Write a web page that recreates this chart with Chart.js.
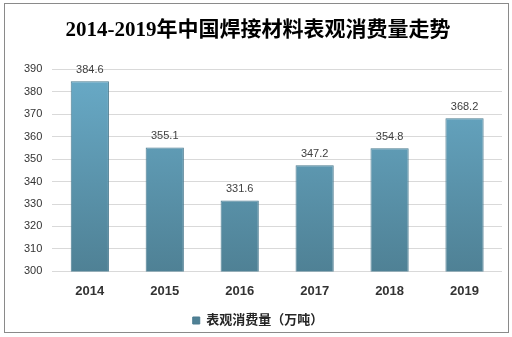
<!DOCTYPE html>
<html>
<head>
<meta charset="utf-8">
<script src="https://cdn.jsdelivr.net/npm/chart.js@4"></script>
<style>
  html, body { margin: 0; padding: 0; background: #fff; }
  #wrap { position: relative; width: 512px; height: 337px; }
  #frame { position: absolute; left: 4px; top: 3px; width: 505px; height: 330px; border: 1px solid #8a8a8a; box-sizing: border-box; pointer-events: none; }
</style>
</head>
<body>
<div id="wrap">
  <canvas id="chart" width="512" height="337"></canvas>
  <div id="frame"></div>
</div>
<script>
const years = ["2014", "2015", "2016", "2017", "2018", "2019"];
const consumption = [384.6, 355.1, 331.6, 347.2, 354.8, 368.2];
const seriesName = "表观消费量（万吨）";
const titleText = "2014-2019年中国焊接材料表观消费量走势";

const CJK = '"Noto Sans CJK SC"';

// value labels drawn above each bar
const barLabels = {
  id: "barLabels",
  afterDatasetsDraw(chart) {
    const ctx = chart.ctx;
    const meta = chart.getDatasetMeta(0);
    ctx.save();
    ctx.font = '11px "Liberation Sans", ' + CJK;
    ctx.fillStyle = "#404040";
    ctx.textAlign = "center";
    ctx.textBaseline = "bottom";
    meta.data.forEach((bar, i) => {
      ctx.fillText(consumption[i].toFixed(1), bar.x, bar.y - 6);
    });
    ctx.restore();
  },
};

function barGradient(context) {
  const { chart } = context;
  const area = chart.chartArea;
  if (!area) return "#5fa0bd";
  const g = chart.ctx.createLinearGradient(0, area.top, 0, area.bottom);
  g.addColorStop(0, "#69abc8");
  g.addColorStop(1, "#4f8195");
  return g;
}

new Chart(document.getElementById("chart"), {
  type: "bar",
  data: {
    labels: years,
    datasets: [{
      label: seriesName,
      data: consumption,
      backgroundColor: barGradient,
      borderColor: "#4a7a8f",
      borderWidth: 1,
      categoryPercentage: 1,
      barPercentage: 0.51,
    }],
  },
  options: {
    responsive: false,
    animation: false,
    layout: { padding: { left: 14, right: 10, top: 0, bottom: 0 } },
    plugins: {
      title: {
        display: true,
        text: titleText,
        color: "#000",
        font: { family: '"Liberation Serif", ' + CJK, size: 21, weight: "bold" },
        padding: { top: 18, bottom: 26 },
      },
      legend: {
        position: "bottom",
        labels: {
          color: "#262626",
          font: { family: '"Liberation Sans", ' + CJK, size: 13, weight: "bold" },
          boxWidth: 7,
          boxHeight: 7,
          padding: 11,
        },
      },
      tooltip: { enabled: false },
    },
    scales: {
      x: {
        grid: { display: false },
        border: { display: false },
        ticks: {
          color: "#333",
          font: { family: '"Liberation Sans"', size: 13, weight: "bold" },
          padding: 4,
        },
      },
      y: {
        min: 300,
        max: 390,
        ticks: {
          stepSize: 10,
          color: "#333",
          font: { family: '"Liberation Sans"', size: 11 },
          padding: 10,
        },
        grid: { color: "#d9d9d9", drawTicks: false },
        border: { display: false },
      },
    },
  },
  plugins: [barLabels],
});
</script>
</body>
</html>
